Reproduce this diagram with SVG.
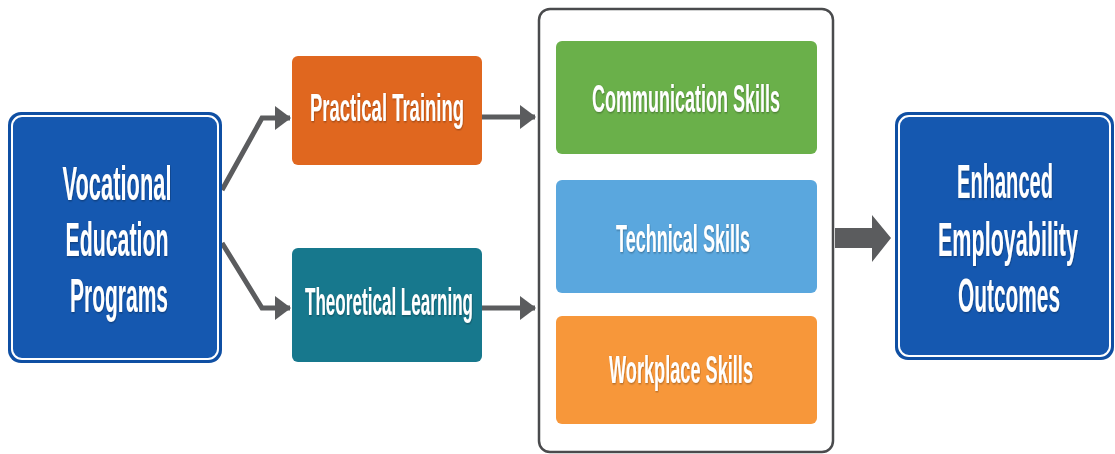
<svg xmlns="http://www.w3.org/2000/svg" width="1115" height="454" viewBox="0 0 1115 454">
  <defs>
    <marker id="head" markerUnits="userSpaceOnUse" markerWidth="16" markerHeight="24" refX="15" refY="12" orient="auto">
      <path d="M0,0 L16,12 L0,24 Z" fill="#5b5c5e"/>
    </marker>
    <filter id="soft" x="-5%" y="-5%" width="110%" height="110%">
      <feDropShadow dx="1" dy="1" stdDeviation="0.8" flood-color="#000" flood-opacity="0.35"/>
    </filter>
  </defs>
  <style>
    .lbl { font-family: "Liberation Sans", Arial, sans-serif; font-weight: bold; fill: #ffffff; text-anchor: middle; filter: url(#soft); }
    .big { font-size: 48px; }
    .mid { font-size: 38px; }
    .wire { fill: none; stroke: #5b5c5e; stroke-width: 5; stroke-linejoin: miter; marker-end: url(#head); }
  </style>

  <rect width="1115" height="454" fill="#ffffff"/>

  <!-- connectors -->
  <g id="connectors">
    <polyline class="wire" points="222,190 262,118 290,118"/>
    <polyline class="wire" points="222,243 262,308 290,308"/>
    <polyline class="wire" points="482,117 535,117"/>
    <polyline class="wire" points="482,308 535,308"/>
    <path d="M835,228 H872 V215 L891,238 L872,262 V248 H835 Z" fill="#5b5c5e"/>
  </g>

  <!-- source program; labels are drawn at half width for a condensed face -->
  <g id="vocational">
    <rect x="8" y="112" width="214" height="251" rx="13" fill="#0f4fa3"/>
    <rect x="12" y="116" width="206" height="243" rx="10" fill="#1558b0" stroke="#ffffff" stroke-width="2"/>
    <text class="lbl big" transform="translate(117 200) scale(0.5 1)" textLength="218" lengthAdjust="spacingAndGlyphs">Vocational</text>
    <text class="lbl big" transform="translate(117 256) scale(0.5 1)" textLength="206" lengthAdjust="spacingAndGlyphs">Education</text>
    <text class="lbl big" transform="translate(119 312) scale(0.5 1)" textLength="196" lengthAdjust="spacingAndGlyphs">Programs</text>
  </g>

  <!-- learning modes -->
  <g id="practical">
    <rect x="292" y="56" width="190" height="109" rx="6" fill="#e0671f"/>
    <text class="lbl mid" transform="translate(387 121) scale(0.5 1)" textLength="308" lengthAdjust="spacingAndGlyphs">Practical Training</text>
  </g>
  <g id="theoretical">
    <rect x="292" y="248" width="190" height="114" rx="6" fill="#17788d"/>
    <text class="lbl mid" transform="translate(389 315) scale(0.5 1)" textLength="336" lengthAdjust="spacingAndGlyphs">Theoretical Learning</text>
  </g>

  <!-- skill set container -->
  <g id="skills">
    <rect x="539" y="9" width="294" height="443" rx="11" fill="#ffffff" stroke="#4a4b4d" stroke-width="2.5"/>
  </g>
  <g id="communication">
    <rect x="556" y="41" width="261" height="113" rx="6" fill="#6ab04a"/>
    <text class="lbl mid" transform="translate(686 112) scale(0.5 1)" textLength="376" lengthAdjust="spacingAndGlyphs">Communication Skills</text>
  </g>
  <g id="technical">
    <rect x="556" y="180" width="261" height="113" rx="6" fill="#5aa7de"/>
    <text class="lbl mid" transform="translate(683 252) scale(0.5 1)" textLength="268" lengthAdjust="spacingAndGlyphs">Technical Skills</text>
  </g>
  <g id="workplace">
    <rect x="556" y="316" width="261" height="108" rx="6" fill="#f7973a"/>
    <text class="lbl mid" transform="translate(681 383) scale(0.5 1)" textLength="288" lengthAdjust="spacingAndGlyphs">Workplace Skills</text>
  </g>

  <!-- outcome -->
  <g id="outcomes">
    <rect x="895" y="112" width="219" height="248" rx="13" fill="#0f4fa3"/>
    <rect x="899" y="116" width="211" height="240" rx="10" fill="#1558b0" stroke="#ffffff" stroke-width="2"/>
    <text class="lbl big" transform="translate(1005 198) scale(0.5 1)" textLength="192" lengthAdjust="spacingAndGlyphs">Enhanced</text>
    <text class="lbl big" transform="translate(1008 256) scale(0.5 1)" textLength="280" lengthAdjust="spacingAndGlyphs">Employability</text>
    <text class="lbl big" transform="translate(1009 312) scale(0.5 1)" textLength="204" lengthAdjust="spacingAndGlyphs">Outcomes</text>
  </g>
</svg>
